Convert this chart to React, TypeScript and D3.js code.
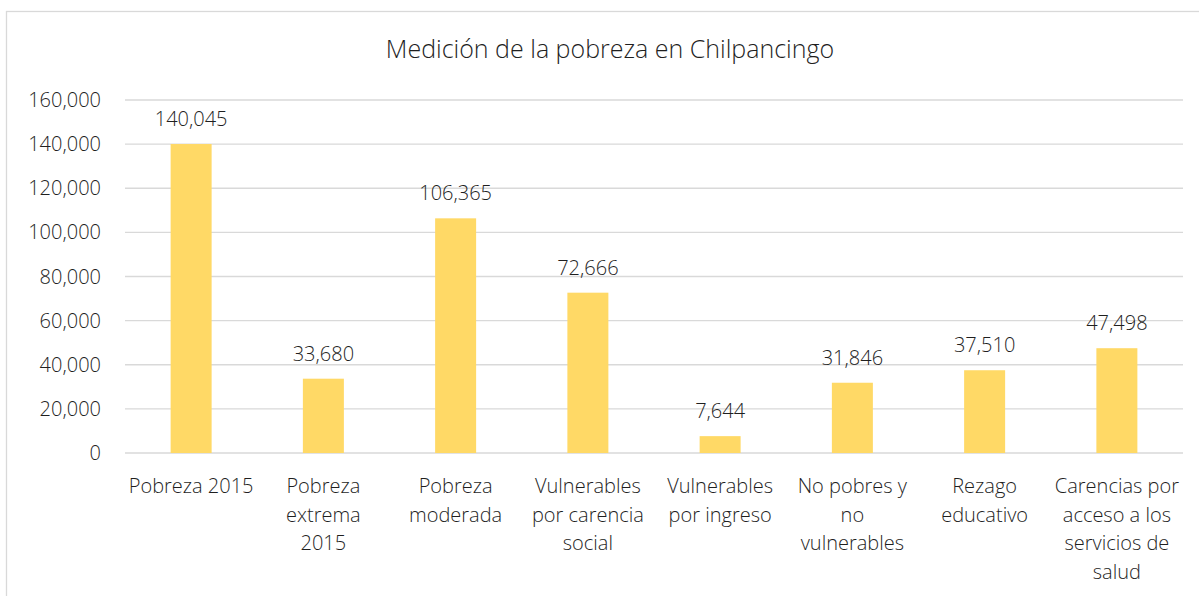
import React from "react";
import * as d3 from "d3";

const categories: string[][] = [
  ["Pobreza 2015"],
  ["Pobreza", "extrema", "2015"],
  ["Pobreza", "moderada"],
  ["Vulnerables", "por carencia", "social"],
  ["Vulnerables", "por ingreso"],
  ["No pobres y", "no", "vulnerables"],
  ["Rezago", "educativo"],
  ["Carencias por", "acceso a los", "servicios de", "salud"],
];
const values: number[] = [140045, 33680, 106365, 72666, 7644, 31846, 37510, 47498];
const yTicks: number[] = [0, 20000, 40000, 60000, 80000, 100000, 120000, 140000, 160000];
const title = "Medición de la pobreza en Chilpancingo";

const W = 1199;
const H = 596;
const FONT = "'Open Sans', sans-serif";
const TEXT = "#1f1f1f";

export default function App() {
  const keys = categories.map((c) => c.join(" "));
  const x = d3.scaleBand<string>().domain(keys).range([125, 1183]).paddingInner(0.69).paddingOuter(0.345);
  const y = d3.scaleLinear().domain([0, 160000]).range([453, 100]);
  const fmt = d3.format(",");
  return (
    <svg width={W} height={H} style={{ position: "absolute", left: 0, top: 0, background: "#fff" }}>
      <rect x={6.5} y={11.5} width={W + 20} height={H + 20} fill="#fff" stroke="#d9d9d9" strokeWidth={1.3} />
      <text x={610} y={58} textAnchor="middle" fontFamily={FONT} fontSize={25} fontWeight={300} fill={TEXT}>
        {title}
      </text>
      {yTicks.map((t) => (
        <g key={t}>
          <line x1={125} x2={1183} y1={y(t)} y2={y(t)} stroke="#d9d9d9" strokeWidth={1.4} />
          <text x={101} y={y(t) + 7} textAnchor="end" fontFamily={FONT} fontSize={20} fontWeight={300} fill={TEXT}>
            {fmt(t)}
          </text>
        </g>
      ))}
      {values.map((v, i) => {
        const k = keys[i];
        const bx = x(k)!;
        const cx = bx + x.bandwidth() / 2;
        return (
          <g key={k}>
            <rect x={bx} y={y(v)} width={x.bandwidth()} height={y(0) - y(v)} fill="#FFD966" />
            <text x={cx} y={y(v) - 18} textAnchor="middle" fontFamily={FONT} fontSize={20} fontWeight={300} fill={TEXT}>
              {fmt(v)}
            </text>
            {categories[i].map((line, j) => (
              <text key={j} x={cx} y={493 + j * 28.5} textAnchor="middle" fontFamily={FONT} fontSize={20} fontWeight={300} fill={TEXT}>
                {line}
              </text>
            ))}
          </g>
        );
      })}
    </svg>
  );
}
